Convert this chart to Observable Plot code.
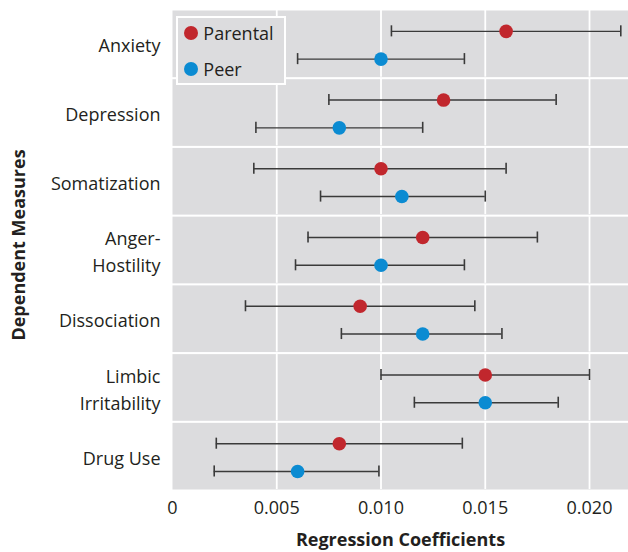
<!DOCTYPE html>
<html>
<head>
<meta charset="utf-8">
<script src="https://cdn.jsdelivr.net/npm/d3@7"></script>
<script src="https://cdn.jsdelivr.net/npm/@observablehq/plot@0.6"></script>
<style>
  html, body { margin: 0; padding: 0; background: #fff; }
  #wrap { position: relative; width: 628px; height: 552px; font-family: "Open Sans", sans-serif; color: #231f20; }
  #legend { position: absolute; left: 176px; top: 16px; width: 110px; height: 69px; box-sizing: border-box;
            border: 2px solid #fff; background: #dcdcde; }
  .ldot { position: absolute; width: 14px; height: 14px; border-radius: 50%; }
  .ltxt { position: absolute; font-size: 18px; line-height: 18px; white-space: nowrap; }
  #ytitle { position: absolute; left: 18px; top: 245px; transform: translate(-50%, -50%) rotate(-90deg);
            font-size: 18px; font-weight: bold; white-space: nowrap; }
</style>
</head>
<body>
<div id="wrap"></div>
<script>
const measures = ["Anxiety", "Depression", "Somatization", "Anger-Hostility", "Dissociation", "Limbic Irritability", "Drug Use"];
const measureLabels = ["Anxiety", "Depression", "Somatization", "Anger-\nHostility", "Dissociation", "Limbic\nIrritability", "Drug Use"];
const sources = ["Parental", "Peer"];
const parentalEst = [0.0160, 0.0130, 0.0100, 0.0120, 0.0090, 0.0150, 0.0080];
const parentalLo  = [0.0105, 0.0075, 0.0039, 0.0065, 0.0035, 0.0100, 0.0021];
const parentalHi  = [0.0215, 0.0184, 0.0160, 0.0175, 0.0145, 0.0200, 0.0139];
const peerEst = [0.0100, 0.0080, 0.0110, 0.0100, 0.0120, 0.0150, 0.0060];
const peerLo  = [0.0060, 0.0040, 0.0071, 0.0059, 0.0081, 0.0116, 0.0020];
const peerHi  = [0.0140, 0.0120, 0.0150, 0.0140, 0.0158, 0.0185, 0.0099];
const xTicks = [0, 0.005, 0.010, 0.015, 0.020];
const colors = ["#c1272d", "#0b8bd2"];

const rows = [];
measures.forEach((m, i) => {
  rows.push({measure: m, source: "Parental", est: parentalEst[i], lo: parentalLo[i], hi: parentalHi[i]});
  rows.push({measure: m, source: "Peer", est: peerEst[i], lo: peerLo[i], hi: peerHi[i]});
});
const labelRows = measures.map((m, i) => ({measure: m, label: measureLabels[i]}));

const barColor = "#3a3a3a";
const chart = Plot.plot({
  width: 628,
  height: 552,
  marginLeft: 172,
  marginRight: 0,
  marginTop: 10,
  marginBottom: 63,
  style: {fontFamily: "'Open Sans', sans-serif", fontSize: "18px", color: "#231f20", background: "transparent"},
  x: {domain: [0, 0.02187]},
  y: {domain: sources, paddingInner: 0.5, paddingOuter: 0.4, insetTop: 2.8, round: false, axis: null},
  fy: {domain: measures, paddingInner: 0.03, paddingOuter: 0, round: false, axis: null},
  color: {domain: sources, range: colors},
  marks: [
    Plot.frame({fill: "#dcdcde", stroke: null}),
    Plot.gridX({ticks: xTicks.slice(1), stroke: "#fff", strokeOpacity: 1, strokeWidth: 1.8}),
    Plot.ruleY(rows, {fy: "measure", y: "source", x1: "lo", x2: "hi", stroke: barColor, strokeWidth: 1.4}),
    Plot.tickX(rows, {fy: "measure", y: "source", x: "lo", stroke: barColor, strokeWidth: 1.6, insetTop: 1.4, insetBottom: 1.4}),
    Plot.tickX(rows, {fy: "measure", y: "source", x: "hi", stroke: barColor, strokeWidth: 1.6, insetTop: 1.4, insetBottom: 1.4}),
    Plot.dot(rows, {fy: "measure", y: "source", x: "est", fill: "source", r: 6.8}),
    Plot.text(labelRows, {fy: "measure", text: "label", frameAnchor: "left", dx: -12, textAnchor: "end", lineHeight: 1.5, fontSize: 18, fill: "#231f20"}),
    Plot.axisX({ticks: xTicks, tickSize: 0, tickPadding: 12, fontSize: 18,
      tickFormat: d => d === 0 ? "0" : d3.format(".3f")(d),
      label: "Regression Coefficients", labelAnchor: "center", labelArrow: "none", labelOffset: 56})
  ]
});

const wrap = document.getElementById("wrap");
wrap.appendChild(chart);

chart.querySelectorAll("g[aria-label='x-axis tick label']").forEach(g => g.setAttribute("font-size", "18"));
chart.querySelectorAll("g[aria-label='x-axis tick label'] text").forEach(t => t.setAttribute("font-size", "18"));
chart.querySelectorAll("g[aria-label='x-axis label'] text").forEach(t => {
  t.setAttribute("font-weight", "bold");
  t.setAttribute("font-size", "18");
});

const legend = document.createElement("div");
legend.id = "legend";
sources.forEach((s, i) => {
  const cy = i === 0 ? 17.3 : 53;
  const dot = document.createElement("div");
  dot.className = "ldot";
  dot.style.background = colors[i];
  dot.style.left = (14.7 - 7 - 2) + "px";
  dot.style.top = (cy - 7 - 2) + "px";
  legend.appendChild(dot);
  const txt = document.createElement("div");
  txt.className = "ltxt";
  txt.textContent = s;
  txt.style.left = (27.3 - 2) + "px";
  txt.style.top = (cy - 9 - 2) + "px";
  legend.appendChild(txt);
});
wrap.appendChild(legend);

const yt = document.createElement("div");
yt.id = "ytitle";
yt.textContent = "Dependent Measures";
wrap.appendChild(yt);
</script>
</body>
</html>
